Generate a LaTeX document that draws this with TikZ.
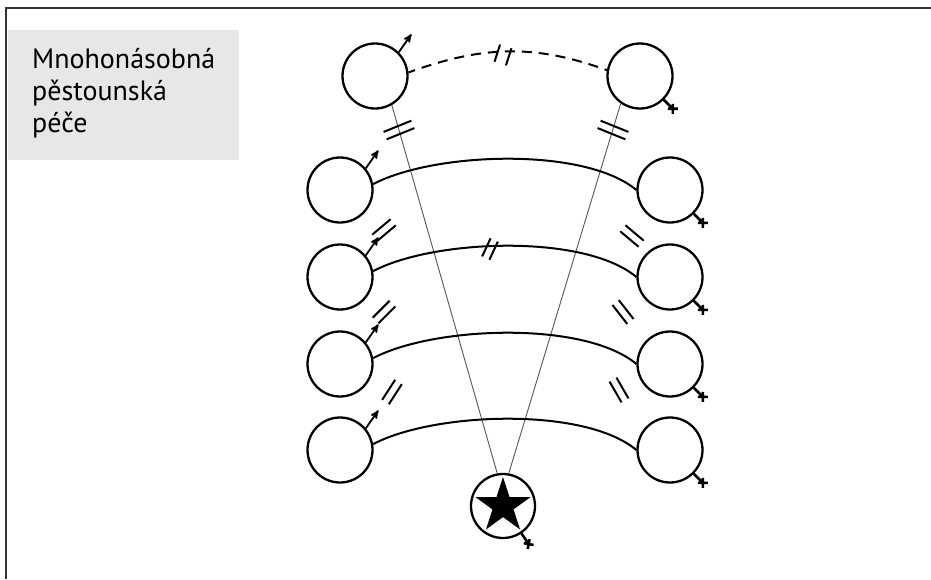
\documentclass[tikz,border=0pt]{standalone}
\usepackage{fontspec}
\setmainfont{PT Sans}
\usetikzlibrary{positioning}
\usetikzlibrary{calc}
\usetikzlibrary{arrows}
\usetikzlibrary{shapes.geometric}
\definecolor{boxgray}{HTML}{E6E7E8}
\definecolor{fangray}{HTML}{555555}
\definecolor{framegray}{HTML}{333333}
\tikzset{>=stealth'}
\tikzset{person/.style={draw, circle, minimum size=65pt, inner sep=0pt, line width=2.3pt}}
\tikzset{tie/.style={line width=2pt}}
\tikzset{fan/.style={draw=fangray, line width=0.9pt}}
\tikzset{malesign/.pic={\draw[->, line width=1.8pt] (0,0) -- (55:22);}}
\tikzset{femsign/.pic={\draw[line width=2.6pt] (0,0) -- (9,-9) (4,-9) -- (14,-9) (9,-4) -- (9,-14);}}
\tikzset{breakmark/.pic={\draw[line width=2pt] (-4,-#1) -- (-4,#1) (4,-#1) -- (4,#1);}}

\begin{document}
\begin{tikzpicture}[x=1pt, y=1pt]
\useasboundingbox (0,0) rectangle (931,-579);
\draw[framegray, line width=2pt] (6,-579) -- (6,-8) -- (931,-8);

\node[fill=boxgray, minimum width=231pt, minimum height=130pt, anchor=north west, inner sep=0pt] (box) at (8,-30) {};
\node[anchor=north west, align=left, inner sep=0pt, font=\fontsize{28}{32}\selectfont] (title) at (32,-48) {Mnohonásobná\\pěstounská\\péče};

\begin{scope}[on grid]
\node[person] (m0) at (375,-76) {};
\node[person] (f0) [right=265pt of m0] {};

\node[person] (l1) at (340,-190) {};
\node[person] (l2) [below=87pt of l1] {};
\node[person] (l3) [below=87pt of l2] {};
\node[person] (l4) [below=86pt of l3] {};

\node[person] (r1) [right=330pt of l1] {};
\node[person] (r2) [right=330pt of l2] {};
\node[person] (r3) [right=330pt of l3] {};
\node[person] (r4) [right=330pt of l4] {};

\node[person, minimum size=64pt] (child) at (503,-506) {};
\node[star, star points=5, star point ratio=2.618, fill=black, minimum size=58pt, inner sep=0pt] (kid) at (child) {};
\end{scope}

% ties to the child
\draw[fan] (m0.-60) -- (child.100);
\draw[fan] (f0.-125) -- (child.80);

% couples
\draw[tie, dash pattern=on 10pt off 7pt, dash phase=3pt] (m0.6) to[out=20, in=160] (f0.170);
\draw[tie] (l1.10) to[out=28, in=140, looseness=0.66] (r1.west);
\draw[tie] (l2.10) to[out=28, in=140, looseness=0.66] (r2.west);
\draw[tie] (l3.10) to[out=28, in=140, looseness=0.66] (r3.west);
\draw[tie] (l4.10) to[out=28, in=140, looseness=0.66] (r4.west);

\pic at (m0.45) {malesign};
\pic at (l1.40) {malesign};
\pic at (l2.40) {malesign};
\pic at (l3.40) {malesign};
\pic at (l4.40) {malesign};
\pic at (f0.-45) {femsign};
\pic at (r1.-45) {femsign};
\pic at (r2.-45) {femsign};
\pic at (r3.-45) {femsign};
\pic at (r4.-45) {femsign};
\pic[rotate=-11] at (child.-56) {femsign};

% breaks
\pic[rotate=-18, xscale=1.5] at (503,-55) {breakmark=9};
\pic[rotate=-68] at (399,-130) {breakmark=15};
\pic[rotate=68] at (613,-130) {breakmark=15};
\pic[rotate=-25] at (490,-249) {breakmark=10};
\pic[rotate=-50] at (384,-230) {breakmark=12};
\pic[rotate=-45] at (384,-312) {breakmark=12};
\pic[rotate=-33] at (392,-392) {breakmark=12};
\pic[rotate=50] at (632,-236) {breakmark=12};
\pic[rotate=38] at (623,-312) {breakmark=12};
\pic[rotate=30] at (619,-390) {breakmark=12};
\end{tikzpicture}
\end{document}
